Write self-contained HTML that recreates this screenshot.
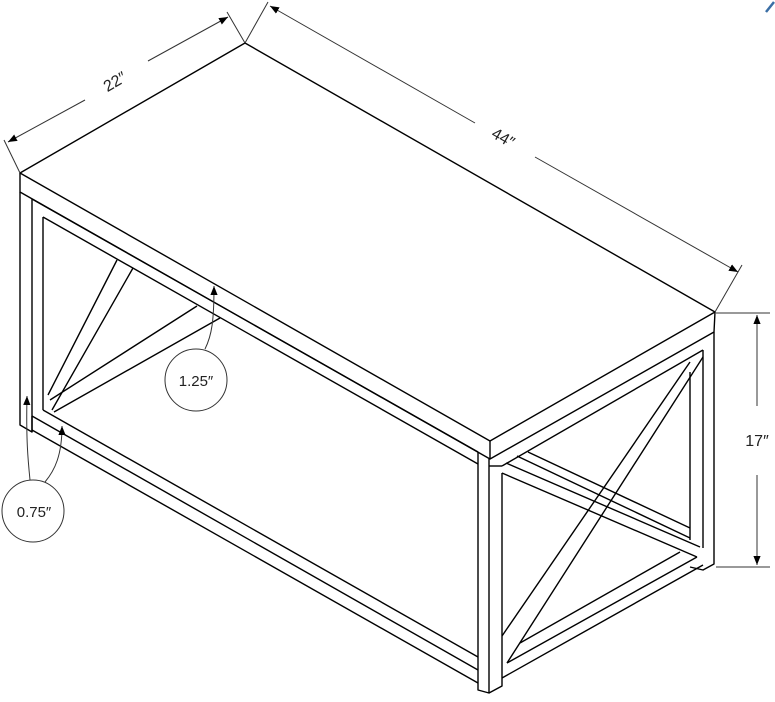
<!DOCTYPE html>
<html><head><meta charset="utf-8"><style>
html,body{margin:0;padding:0;background:#fff;}
svg{display:block;}
text{font-family:"Liberation Sans",sans-serif;fill:#222;}
</style></head><body>
<svg width="775" height="702" viewBox="0 0 775 702" xmlns="http://www.w3.org/2000/svg">
<defs>
<marker id="a" viewBox="0 0 10 10" refX="10" refY="5" markerWidth="9" markerHeight="9" orient="auto-start-reverse" markerUnits="userSpaceOnUse"><path d="M0,1 L10,5 L0,9 z" fill="#000"/></marker>
</defs>
<g fill="none" stroke="#000" stroke-width="1.4" stroke-linejoin="round">
<!-- tabletop -->
<path d="M20,173 L245,43 L715,312 L490,441 Z"/>
<path d="M20,173 L20,192 L490,459 L714,332 L715,312"/>
<line x1="490" y1="441" x2="490" y2="459"/>
<!-- left leg -->
<path d="M20,192 L20,425 L32,432 L32,199"/>
<line x1="43" y1="217" x2="43" y2="410"/>
<line x1="32" y1="199" x2="478" y2="452"/>
<line x1="43" y1="217" x2="478" y2="464"/>
<!-- left x brace -->
<path d="M117,260 L48,395 M133,268 L52,410"/>
<path d="M197,306 L50,400 M220,318 L54,412"/>
<!-- bottom left rail -->
<line x1="43" y1="410" x2="478" y2="657"/>
<line x1="32" y1="416" x2="478" y2="670"/>
<line x1="32" y1="430" x2="478" y2="683"/>
<line x1="32" y1="416" x2="32" y2="432"/>
<!-- front leg -->
<path d="M478,452 L478,690 L489,693 L489,459"/>
<path d="M489,693 L502,686 L502,678"/>
<line x1="502" y1="473" x2="502" y2="678"/>
<!-- right face apron -->
<line x1="489" y1="466" x2="502" y2="466"/>
<line x1="502" y1="466" x2="703" y2="350"/>
<!-- back right leg -->
<line x1="690" y1="372" x2="690" y2="540"/>
<line x1="703" y1="350" x2="703" y2="548"/>
<path d="M714,332 L714,564 L703,570 L690,567"/>
<!-- steep diagonal -->
<line x1="502" y1="636" x2="690" y2="362"/>
<line x1="507" y1="663" x2="703" y2="357"/>
<!-- near-horizontal diagonal -->
<line x1="506" y1="463" x2="700" y2="547"/>
<line x1="502" y1="473" x2="697" y2="557"/>
<!-- far brace -->
<line x1="517" y1="456" x2="690" y2="538"/>
<line x1="528" y1="452" x2="690" y2="528"/>
<!-- bottom triangle rail -->
<line x1="520" y1="643" x2="680" y2="552"/>
<line x1="507" y1="663" x2="697" y2="557"/>
<line x1="502" y1="678" x2="703" y2="565"/>
</g>
<!-- dimension lines -->
<g fill="none" stroke="#333" stroke-width="1">
<line x1="20" y1="173" x2="4" y2="140"/>
<line x1="245" y1="43" x2="227" y2="12"/>
<line x1="245" y1="43" x2="268" y2="2"/>
<line x1="715" y1="312" x2="742" y2="265"/>
<line x1="8" y1="142" x2="85" y2="100" marker-start="url(#a)"/>
<line x1="148" y1="61" x2="228" y2="17" marker-end="url(#a)"/>
<line x1="270" y1="6" x2="475" y2="123" marker-start="url(#a)"/>
<line x1="535" y1="157" x2="738" y2="272" marker-end="url(#a)"/>
<line x1="716" y1="313" x2="770" y2="313"/>
<line x1="716" y1="567" x2="770" y2="567"/>
<line x1="757" y1="315" x2="757" y2="406" marker-start="url(#a)"/>
<line x1="757" y1="475" x2="757" y2="565" marker-end="url(#a)"/>
<circle cx="196" cy="380" r="31"/>
<circle cx="33" cy="511" r="31"/>
<path d="M205,349 C212,335 214,320 214,286" marker-end="url(#a)"/>
<path d="M30,480 C28,460 26,440 27,396" marker-end="url(#a)"/>
<path d="M45,482 C55,470 62,455 62,426" marker-end="url(#a)"/>
</g>
<text x="115" y="87" font-size="16" text-anchor="middle" transform="rotate(-30 115 82)">22″</text>
<text x="503" y="143" font-size="16" text-anchor="middle" transform="rotate(30 503 138)">44″</text>
<text x="757" y="446" font-size="16" text-anchor="middle">17″</text>
<text x="196" y="386" font-size="15" text-anchor="middle">1.25″</text>
<text x="34" y="517" font-size="15" text-anchor="middle">0.75″</text>
<path d="M766,12 L774,2" stroke="#3a6ea5" stroke-width="2.5"/>
</svg>
</body></html>
